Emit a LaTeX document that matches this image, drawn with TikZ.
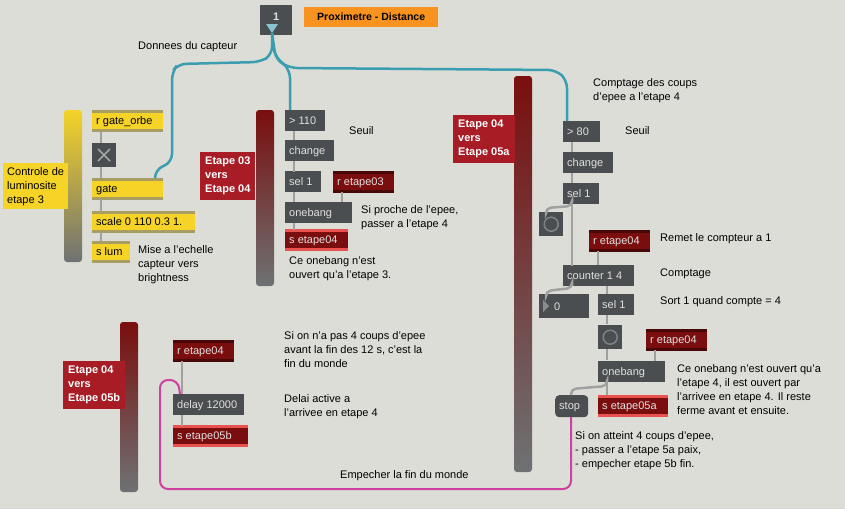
\documentclass[tikz,border=0pt]{standalone}
\usepackage{fontspec}
\setmainfont{Liberation Sans}
\usetikzlibrary{positioning}
\definecolor{bgc}{HTML}{DDDDD8}
\definecolor{objc}{HTML}{4A4E50}
\definecolor{yelc}{HTML}{F5D327}
\definecolor{olvc}{HTML}{A89E63}
\definecolor{redc}{HTML}{7A0E0E}
\definecolor{sndc}{HTML}{E8534F}
\definecolor{cmtc}{HTML}{A81C26}
\definecolor{orgc}{HTML}{F7931E}
\definecolor{tealc}{HTML}{3A9DB0}
\definecolor{pinkc}{HTML}{D040A0}
\definecolor{cabc}{HTML}{A0A0A0}
\tikzset{
  bars/.style={path picture={\draw[#1, line width=7pt] ([yshift=1pt]path picture bounding box.north west) -- ([yshift=1pt]path picture bounding box.north east) ([yshift=-1pt]path picture bounding box.south west) -- ([yshift=-1pt]path picture bounding box.south east);}},
  obj/.style={anchor=north west, fill=objc, text=white!88!black, inner sep=0pt, minimum height=21, font=\fontsize{11}{12}\selectfont, text depth=0pt},
  yobj/.style={obj, fill=yelc, text=black, bars=olvc},
  robj/.style={obj, fill=redc, bars=redc!60!black},
  sobj/.style={obj, fill=redc, bars=sndc},
  note/.style={anchor=north west, inner sep=0pt, align=left, font=\fontsize{11}{14}\selectfont},
  rnote/.style={anchor=north west, fill=cmtc, text=white, align=left, inner sep=5pt, font=\bfseries\fontsize{11}{14}\selectfont},
  bangbox/.style={anchor=north west, fill=objc, minimum width=24, minimum height=24, inner sep=0pt},
  cab/.style={cabc, line width=2.5pt},
  tcab/.style={tealc, line width=2.5pt, rounded corners=8pt},
  pcab/.style={pinkc, line width=2pt, rounded corners=8pt}
}
\newcommand{\mx}[2]{\makebox[#1pt][l]{\hspace*{4pt}#2}}
\begin{document}
\begin{tikzpicture}[x=1pt,y=-1pt]
\fill[bgc] (0,0) rectangle (845,509);
\useasboundingbox (0,0) rectangle (845,509);
% sliders
\shade[top color=yelc, bottom color=objc!80, rounded corners=3pt] (64,110) rectangle (82,262);
\shade[top color=redc, bottom color=objc!80, rounded corners=3pt] (256,110) rectangle (274,286);
\shade[top color=redc, bottom color=objc!80, rounded corners=3pt] (514,76) rectangle (532,472);
\shade[top color=redc, bottom color=objc!80, rounded corners=3pt] (120,322) rectangle (138,492);
% sensor
\node[obj, minimum width=32, minimum height=30, font=\bfseries\fontsize{11}{12}\selectfont] (cap) at (260,5) {\raisebox{6pt}{1}};
\fill[tealc!60!white] (266,24) -- (278,24) -- (272,33) -- cycle;
\node[anchor=north west, fill=orgc, inner sep=0pt, minimum width=134, minimum height=20, font=\bfseries\fontsize{10.5}{12}\selectfont] (titre) at (304,7) {Proximetre - Distance};
\node[note] (donnees) at (138,41) {Donnees du capteur};
% etape 3
\node[note, fill=yelc, inner sep=4pt] (ctrl) at (3,163) {Controle de\\luminosite\\etape 3};
\node[yobj] (gorbe) at (92,110) {\mx{71}{r gate\_orbe}};
\node[bangbox] (tog) at (92,143) {};
\draw[white!50!objc, line width=1.5pt] (98,149) -- (110,161) (110,149) -- (98,161);
\node[yobj] (gate) at (92,178) {\mx{71}{gate}};
\node[yobj] (scale) at (92,211) {\mx{103}{scale 0 110 0.3 1.}};
\node[yobj] (slum) at (92,241) {\mx{38}{s lum}};
\node[note] (echelle) at (138,245) {Mise a l'echelle\\capteur vers\\brightness};
\draw[cab] (gorbe.south west) ++(9,0) -- ++(0,12);
\draw[cab] (tog.south west) ++(9,0) -- ++(0,11);
\draw[cab] (gate.south west) ++(9,0) -- ++(0,12);
\draw[cab] (scale.south west) ++(9,0) -- ++(0,9);
% etape 03 vers 04
\node[rnote] (e34) at (200,152) {Etape 03\\vers\\Etape 04};
\node[obj] (sup1) at (285,110) {\mx{40}{> 110}};
\node[note] (seuil1) at (349,126) {Seuil};
\node[obj] (chg1) at (285,140) {\mx{49}{change}};
\node[obj] (sel1) at (285,171) {\mx{36}{sel 1}};
\node[robj] (r03) at (333,171) {\mx{61}{r etape03}};
\node[obj] (ob1) at (285,202) {\mx{67}{onebang}};
\node[note] (proche) at (361,205) {Si proche de l'epee,\\passer a l'etape 4};
\node[sobj] (s04) at (285,229) {\mx{63}{s etape04}};
\node[note] (ouvert3) at (289,256) {Ce onebang n'est\\ouvert qu'a l'etape 3.};
\draw[cab] (sup1.south west) ++(9,0) -- ++(0,9);
\draw[cab] (chg1.south west) ++(9,0) -- ++(0,11);
\draw[cab] (sel1.south west) ++(9,0) -- ++(0,10);
\draw[cab] (r03.south west) ++(9,0) -- ++(0,10);
\draw[cab] (ob1.south west) ++(9,0) -- ++(0,7);
% etape 04 vers 05a
\node[rnote] (e45a) at (453,115) {Etape 04\\vers\\Etape 05a};
\node[note] (comptage4) at (593,78) {Comptage des coups\\d'epee a l'etape 4};
\node[obj] (sup2) at (563,121) {\mx{37}{> 80}};
\node[note] (seuil2) at (625,126) {Seuil};
\node[obj] (chg2) at (563,152) {\mx{50}{change}};
\node[obj] (sel2) at (563,183) {\mx{36}{sel 1}};
\node[bangbox] (bang1) at (539,212) {};
\draw[white!30!objc, line width=1.5pt] (bang1.center) circle (7);
\node[robj] (r04a) at (589,230) {\mx{61}{r etape04}};
\node[note] (remet) at (660,233) {Remet le compteur a 1};
\node[obj] (cnt) at (563,265) {\mx{71}{counter 1 4}};
\node[note] (cpt) at (660,269) {Comptage};
\node[obj, minimum height=24] (num) at (539,294) {\mx{50}{\hspace*{11pt}0}};
\fill[white!35!objc] (543,300) -- (549,306) -- (543,312) -- cycle;
\node[obj] (sel3) at (598,294) {\mx{36}{sel 1}};
\node[note] (sort) at (660,296) {Sort 1 quand compte = 4};
\node[bangbox] (bang2) at (598,325) {};
\draw[white!30!objc, line width=1.5pt] (bang2.center) circle (7);
\node[robj] (r04b) at (646,329) {\mx{61}{r etape04}};
\node[obj] (ob2) at (598,361) {\mx{67}{onebang}};
\node[note] (ouvert4) at (677,364) {Ce onebang n'est ouvert qu'a\\l'etape 4, il est ouvert par\\l'arrivee en etape 4. Il reste\\ferme avant et ensuite.};
\node[obj, minimum height=22, rounded corners=4pt] (stop) at (555,395) {\mx{33}{stop}};
\node[sobj] (s05a) at (598,395) {\mx{70}{s etape05a}};
\node[note] (atteint) at (575,431) {Si on atteint 4 coups d'epee,\\- passer a l'etape 5a paix,\\- empecher etape 5b fin.};
\draw[cab] (sup2.south west) ++(9,0) -- ++(0,10);
\draw[cab] (chg2.south west) ++(9,0) -- ++(0,10);
\draw[cab] (sel2.south west) ++(9,0) -- ++(0,62);
\draw[cab, rounded corners=5pt] (572,203) -- (572,206) -- (546,208) -- (546,212);
\draw[cab] (r04a.south west) ++(9,0) -- ++(0,14);
\draw[cab, rounded corners=5pt] (572,286) -- (572,288) -- (546,291) -- (546,294);
\draw[cab] (cnt.south west) ++(44,0) -- ++(0,8);
\draw[cab] (sel3.south west) ++(9,0) -- ++(0,9);
\draw[cab] (bang2.south west) ++(9,0) -- ++(0,11);
\draw[cab] (r04b.south west) ++(9,0) -- ++(0,11);
\draw[cab] (ob2.south west) ++(9,0) -- ++(0,13);
\draw[cab, rounded corners=5pt] (607,382) -- (607,386) -- (571,389) -- (571,395);
% etape 04 vers 05b
\node[rnote] (e45b) at (63,361) {Etape 04\\vers\\Etape 05b};
\node[robj] (r04c) at (173,340) {\mx{61}{r etape04}};
\node[note] (fin) at (284,331) {Si on n'a pas 4 coups d'epee\\avant la fin des 12 s, c'est la\\fin du monde};
\node[obj] (dly) at (173,394) {\mx{71}{delay 12000}};
\node[note] (delai) at (284,394) {Delai active a\\l'arrivee en etape 4};
\node[sobj] (s05b) at (173,425) {\mx{75}{s etape05b}};
\node[note] (empecher) at (340,470) {Empecher la fin du monde};
\draw[cab] (r04c.south west) ++(9,0) -- ++(0,33);
\draw[cab] (dly.south west) ++(9,0) -- ++(0,11);
% cables capteur
\draw[tcab] (272,33) -- (272,55) -- (260,62) -- (178,64) -- (172,72) -- (172,162) -- (155,170) -- (155,178);
\draw[tcab] (272,33) -- (274,55) -- (290,70) -- (290,110);
\draw[tcab] (272,33) -- (276,60) -- (290,68) -- (556,70) -- (567,80) -- (567,121);
\draw[pcab] (571,417) -- (571,489) -- (160,489) -- (160,380) -- (178,380) -- (180,394);
\end{tikzpicture}
\end{document}
